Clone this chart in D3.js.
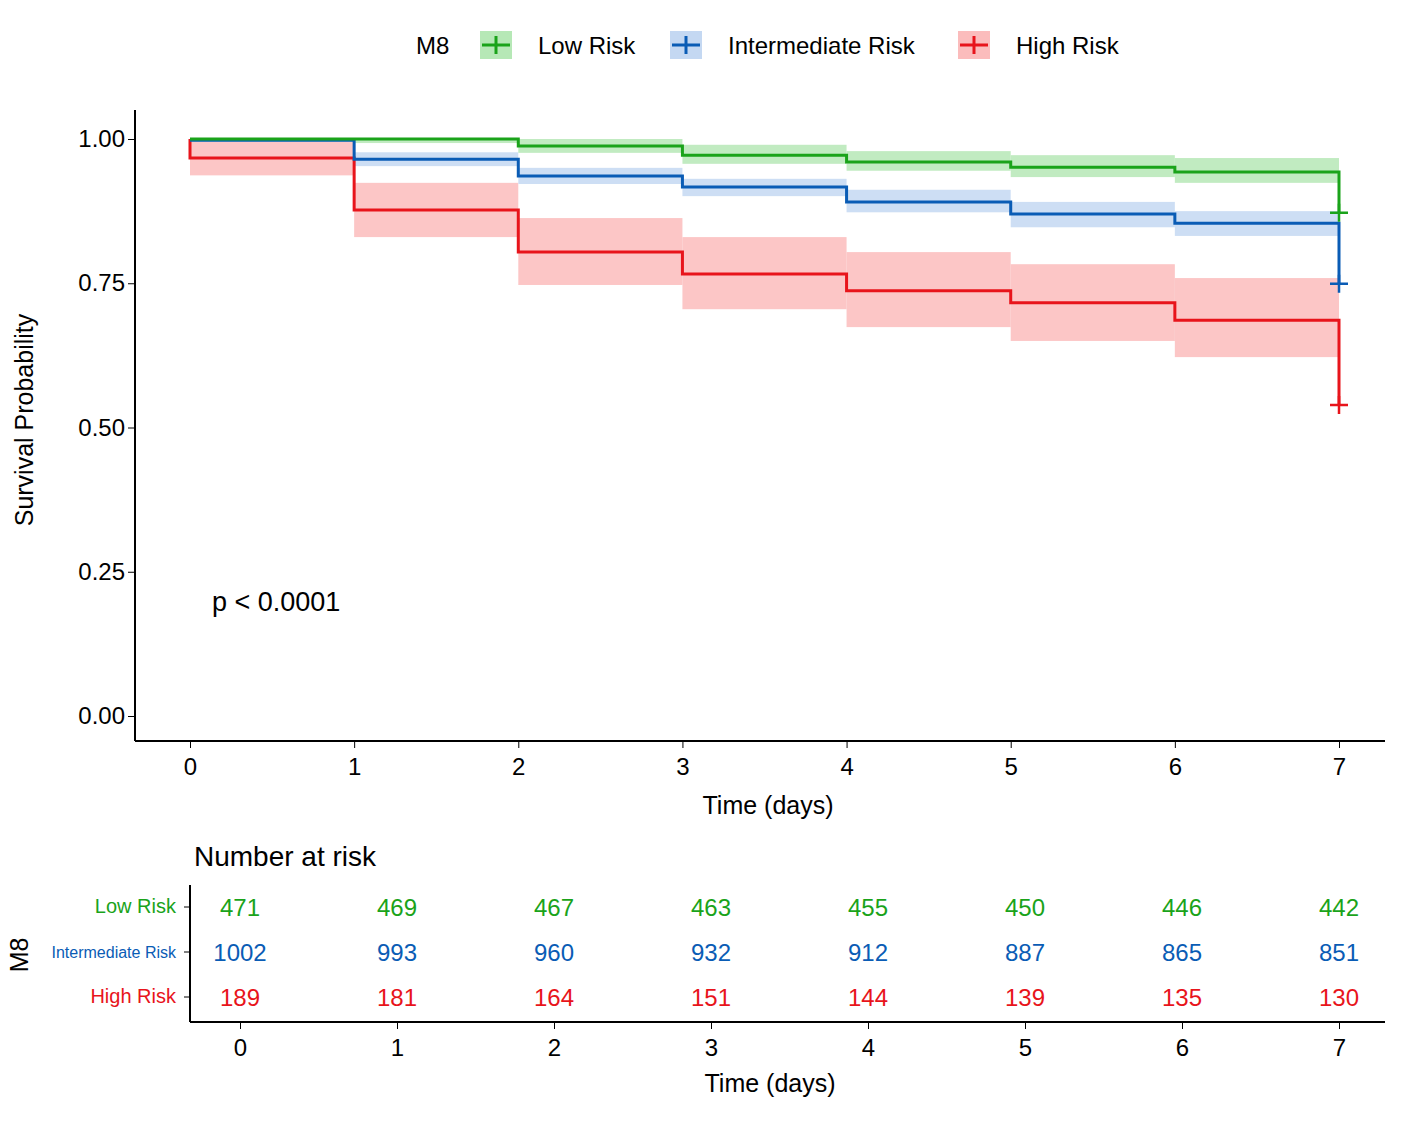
<!DOCTYPE html><html><head><meta charset="utf-8"><script src="https://cdn.jsdelivr.net/npm/d3@7/dist/d3.min.js"></script>
<style>body{margin:0;background:#fff}text{font-family:Arial,"Liberation Sans",sans-serif}</style></head><body><svg id="c" width="1403" height="1121"></svg><script>
const times=[0,1,2,3,4,5,6,7];
const groups=["Low Risk","Intermediate Risk","High Risk"];
const colors=["#1aa31a","#0a5cb5","#e8141b"];
const bandColors=["#b6e8b6","#c4d8f2","#fbbcbc"];
const survLow=[1.0,1.0,0.988,0.972,0.960,0.951,0.943];
const survInt=[0.998,0.965,0.936,0.917,0.891,0.870,0.854];
const survHigh=[0.967,0.877,0.804,0.766,0.737,0.716,0.686];
const endLow=0.872,endInt=0.749,endHigh=0.539;
const upLow=[1.0,1.0,1.0,0.99,0.979,0.972,0.967], loLow=[0.995,0.993,0.976,0.957,0.945,0.934,0.924];
const upInt=[1.0,0.977,0.95,0.931,0.912,0.891,0.875], loInt=[0.996,0.953,0.922,0.901,0.873,0.847,0.832];
const upHigh=[1.0,0.924,0.863,0.83,0.804,0.783,0.759], loHigh=[0.937,0.83,0.747,0.705,0.674,0.65,0.622];
const riskLow=[471,469,467,463,455,450,446,442];
const riskInt=[1002,993,960,932,912,887,865,851];
const riskHigh=[189,181,164,151,144,139,135,130];
const yTicks=[0,0.25,0.5,0.75,1.0];
const svg=d3.select("#c");
const x=d3.scaleLinear().domain([0,7]).range([190,1339]);
const y=d3.scaleLinear().domain([0,1]).range([716,139]);
const S=[survLow,survInt,survHigh],E=[endLow,endInt,endHigh],U=[upLow,upInt,upHigh],L=[loLow,loInt,loHigh],R=[riskLow,riskInt,riskHigh];
// bands
[2,1,0].forEach(g=>{
 S[g].forEach((_,i)=>{svg.append("rect").attr("x",x(i)).attr("width",x(i+1)-x(i)).attr("y",y(U[g][i])).attr("height",y(L[g][i])-y(U[g][i])).attr("fill",bandColors[g]).attr("opacity",0.85);});
});
[2,1,0].forEach(g=>{
 const pts=[];S[g].forEach((v,i)=>{pts.push([i,v],[i+1,v]);});pts.push([7,E[g]]);
 if(g==2) pts.unshift([0,1]);
 svg.append("path").attr("d",d3.line().x(d=>x(d[0])).y(d=>y(d[1]))(pts)).attr("fill","none").attr("stroke",colors[g]).attr("stroke-width",3);
 svg.append("path").attr("d",`M${x(7)-9},${y(E[g])}h18M${x(7)},${y(E[g])-9}v18`).attr("stroke",colors[g]).attr("stroke-width",2.5);
});
svg.append("g").attr("transform","translate(0,741)").call(d3.axisBottom(x).ticks(8).tickSize(7).tickSizeOuter(0)).call(g=>{g.select(".domain").attr("d","M135,0H1385");g.selectAll("text").attr("font-size",24).attr("fill","#000").attr("dy","1em");g.selectAll("line").attr("stroke","#000");g.select(".domain").attr("stroke","#000").attr("stroke-width",2);});
svg.append("g").attr("transform","translate(135,0)").call(d3.axisLeft(y).tickValues(yTicks).tickFormat(d3.format(".2f")).tickSize(7).tickSizeOuter(0)).call(g=>{g.select(".domain").attr("d","M0,110V741").attr("stroke-width",2);g.selectAll("text").attr("font-size",24).attr("fill","#000");});
svg.append("text").attr("x",768).attr("y",814).attr("text-anchor","middle").attr("font-size",25).text("Time (days)");
svg.append("text").attr("transform","translate(33,420) rotate(-90)").attr("text-anchor","middle").attr("font-size",25).text("Survival Probability");
svg.append("text").attr("x",212).attr("y",611).attr("font-size",27).text("p < 0.0001");
// legend
svg.append("text").attr("x",416).attr("y",54).attr("font-size",24).text("M8");
const lx=[480,670,958];
groups.forEach((g,i)=>{const gg=svg.append("g").attr("transform",`translate(${lx[i]},45)`);
 gg.append("rect").attr("x",0).attr("y",-14).attr("width",32).attr("height",28).attr("fill",bandColors[i]);
 gg.append("path").attr("d","M2,0H30M16,-9V9").attr("stroke",colors[i]).attr("stroke-width",3);
 gg.append("text").attr("x",58).attr("y",9).attr("font-size",24).text(g);});
// risk table
const xr=d3.scaleLinear().domain([0,7]).range([240,1339]);
const rowY=[907,952,997];
svg.append("text").attr("x",194).attr("y",866).attr("font-size",28).text("Number at risk");
R.forEach((r,g)=>r.forEach((v,i)=>svg.append("text").attr("x",xr(i)).attr("y",rowY[g]+9).attr("text-anchor","middle").attr("font-size",24).attr("fill",colors[g]).text(v)));
svg.append("g").attr("transform","translate(190,0)").call(g=>{g.append("path").attr("d","M0,885V1022").attr("stroke","#000").attr("stroke-width",2);
 rowY.forEach((yy,i)=>{g.append("line").attr("x1",-6).attr("x2",0).attr("y1",yy).attr("y2",yy).attr("stroke","#000");
 g.append("text").attr("x",-14).attr("y",yy+6).attr("text-anchor","end").attr("font-size",i==1?16:20).attr("fill",colors[i]).text(groups[i]);});});
svg.append("g").attr("transform","translate(0,1022)").call(d3.axisBottom(xr).ticks(8).tickSize(7).tickSizeOuter(0)).call(g=>{g.select(".domain").attr("d","M190,0H1385").attr("stroke-width",2);g.selectAll("text").attr("font-size",24).attr("fill","#000").attr("dy","1em");});
svg.append("text").attr("x",770).attr("y",1092).attr("text-anchor","middle").attr("font-size",25).text("Time (days)");
svg.append("text").attr("transform","translate(28,955) rotate(-90)").attr("text-anchor","middle").attr("font-size",25).text("M8");
</script></body></html>
